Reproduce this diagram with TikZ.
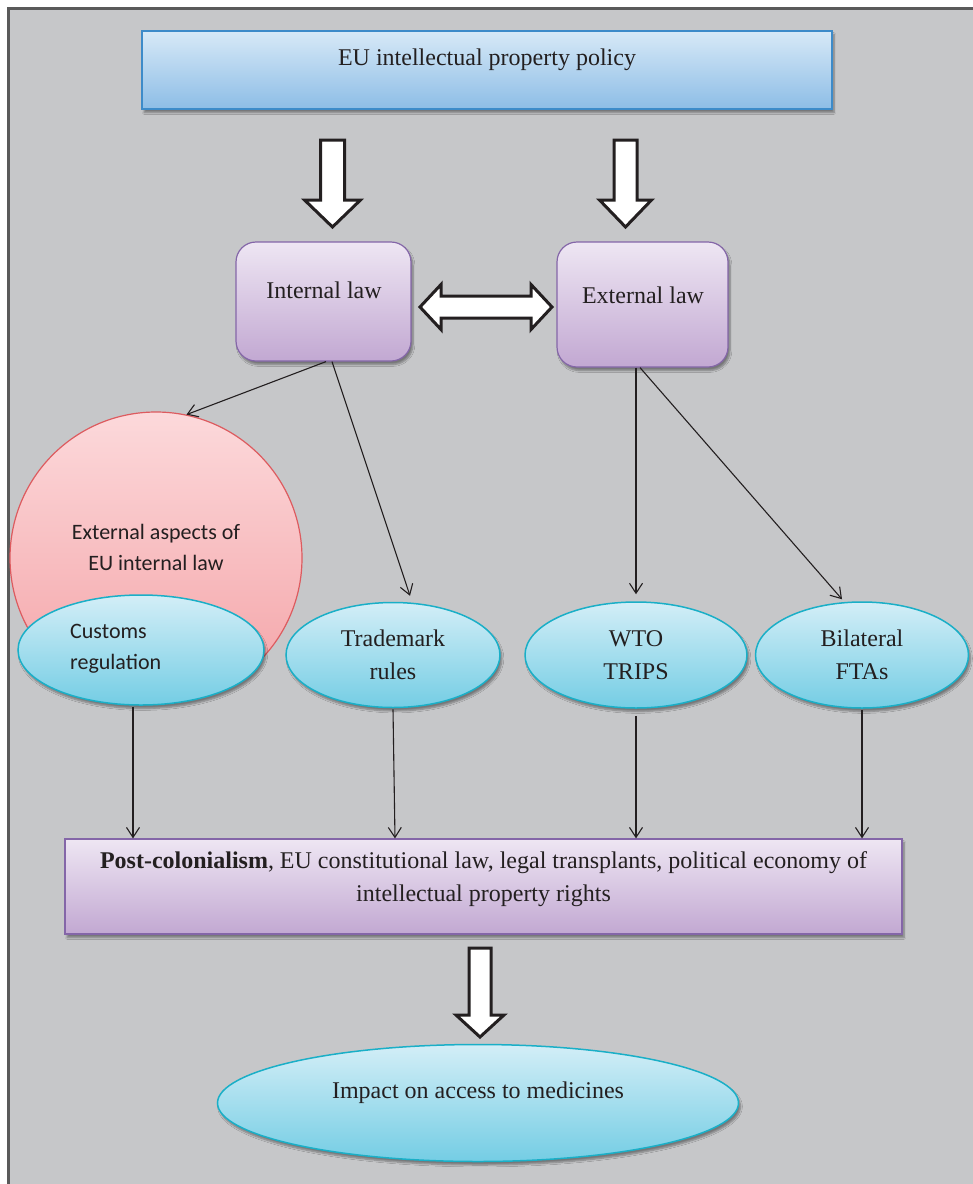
\documentclass[tikz,border=0pt]{standalone}
\usepackage{fontspec}
\setmainfont{Liberation Serif}
\newfontfamily\calfont{Carlito}
\usetikzlibrary{arrows.meta,shadows.blur,calc,shapes.geometric}

\definecolor{bggray}{RGB}{198,199,201}
\definecolor{framegray}{RGB}{90,90,90}
\definecolor{bluetop}{RGB}{215,233,247}
\definecolor{bluebot}{RGB}{141,189,230}
\definecolor{blueedge}{RGB}{61,139,201}
\definecolor{purptop}{RGB}{238,230,243}
\definecolor{purpbot}{RGB}{194,168,210}
\definecolor{purpedge}{RGB}{132,102,168}
\definecolor{cyantop}{RGB}{211,238,247}
\definecolor{cyanbot}{RGB}{116,205,228}
\definecolor{cyanedge}{RGB}{26,175,199}
\definecolor{pinktop}{RGB}{252,217,219}
\definecolor{pinkbot}{RGB}{244,162,166}
\definecolor{pinkedge}{RGB}{221,91,95}
\definecolor{ink}{RGB}{35,31,32}

\tikzset{
  shadowed/.style={blur shadow={shadow xshift=2pt,shadow yshift=-3.5pt,shadow opacity=40,shadow blur steps=6}},
  bluebox/.style={rectangle,draw=blueedge,line width=1.5pt,top color=bluetop,bottom color=bluebot,shadowed,inner sep=0pt},
  purplebox/.style={rectangle,rounded corners=20pt,draw=purpedge,line width=1.2pt,top color=purptop,bottom color=purpbot,shadowed,inner sep=0pt},
  cyanell/.style={ellipse,draw=cyanedge,line width=1.5pt,top color=cyantop,bottom color=cyanbot,shadowed,inner sep=0pt,
    text=ink,align=center,font=\fontsize{24}{33}\selectfont},
  pinkcirc/.style={circle,draw=pinkedge,line width=1.2pt,top color=pinktop,bottom color=pinkbot,inner sep=0pt},
  serlabel/.style={text=ink,align=center,inner sep=0pt,font=\fontsize{24}{33}\selectfont},
  sanslabel/.style={text=ink,inner sep=0pt,font=\calfont\fontsize{22}{31}\selectfont},
  thinarr/.style={-{Straight Barb[length=10pt,width=13pt]},line width=1.1pt,draw=ink},
  blockarr/.style={draw=ink,line width=3pt,fill=white,line join=miter}
}

\begin{document}
\begin{tikzpicture}[x=1pt,y=-1pt]
\useasboundingbox (0,0) rectangle (973,1184);
\fill[white] (0,0) rectangle (973,1184);
\fill[framegray] (7,7) rectangle (973,1184);
\fill[bggray] (10,10) rectangle (973,1184);

% top box
\node[bluebox,minimum width=690pt,minimum height=78pt] (top) at (487,70) {};
\node[serlabel] (toptxt) at (487,60) {EU intellectual property policy};

% law boxes
\node[purplebox,minimum width=175pt,minimum height=119pt] (int) at (323.5,301.5) {};
\node[serlabel] (inttxt) at (324,290) {Internal law};
\node[purplebox,minimum width=171pt,minimum height=125pt] (ext) at (642.5,304.5) {};
\node[serlabel] (exttxt) at (643,295) {External law};

% block arrows
\draw[blockarr] (320.5,140) -- (344.5,140) -- (344.5,200) -- (360.5,200) -- (332.5,227) -- (304.5,200) -- (320.5,200) -- cycle;
\draw[blockarr] (614,140) -- (637,140) -- (637,200) -- (651.5,200) -- (625.5,227) -- (599.5,200) -- (614,200) -- cycle;
\draw[blockarr] (420,307) -- (441,284.5) -- (441,296) -- (531,296) -- (531,284.5) -- (552,307) -- (531,329.5) -- (531,318) -- (441,318) -- (441,329.5) -- cycle;

% circle and ellipses
\node[pinkcirc,minimum size=292pt] (circ) at (156,558) {};
\node[sanslabel,align=center] (circtxt) at (156,547) {External aspects of\\EU internal law};
\node[cyanell,minimum width=246pt,minimum height=110pt] (cust) at (141,650) {};
\node[sanslabel,align=left,anchor=west] (custtxt) at (70,649) {Customs\\regulation};
\node[cyanell,minimum width=214pt,minimum height=105pt] (tm) at (393,655) {Trademark\\rules};
\node[cyanell,minimum width=222pt,minimum height=106pt] (wto) at (636,655) {WTO\\TRIPS};
\node[cyanell,minimum width=213pt,minimum height=106pt] (bil) at (862,655) {Bilateral\\FTAs};

% bottom box
\node[purplebox,rounded corners=0pt,minimum width=837pt,minimum height=95pt] (post) at (483.5,886.5) {};
\node[serlabel] (posttxt) at (483.5,879.5) {\textbf{Post-colonialism}, EU constitutional law, legal transplants, political economy of\\intellectual property rights};

\draw[blockarr] (469,948) -- (491,948) -- (491,1015) -- (504,1015) -- (480,1037) -- (456,1015) -- (469,1015) -- cycle;

\node[cyanell,minimum width=521pt,minimum height=117pt] (imp) at (478,1103) {};
\node[serlabel] (imptxt) at (478,1093) {Impact on access to medicines};

% thin arrows
\draw[thinarr] ([xshift=2.5pt]int.south) -- (circ.78);
\draw[thinarr] ([xshift=8.5pt]int.south) -- ([xshift=17pt,yshift=6pt]tm.north);
\draw[thinarr] (ext.south -| wto.north) -- ([yshift=7pt]wto.north);
\draw[thinarr] ([xshift=-2.5pt]ext.south) -- ([xshift=-20pt,yshift=2pt]bil.north);

\draw[thinarr] ([xshift=-8pt,yshift=-1pt]cust.south) -- ([xshift=-8pt]cust.south |- post.north);
\draw[thinarr] ([yshift=-1pt]tm.south) -- ([xshift=2pt]tm.south |- post.north);
\draw[thinarr] ([yshift=-7pt]wto.south) -- (wto.south |- post.north);
\draw[thinarr] ([yshift=-1pt]bil.south) -- (bil.south |- post.north);
\end{tikzpicture}
\end{document}
